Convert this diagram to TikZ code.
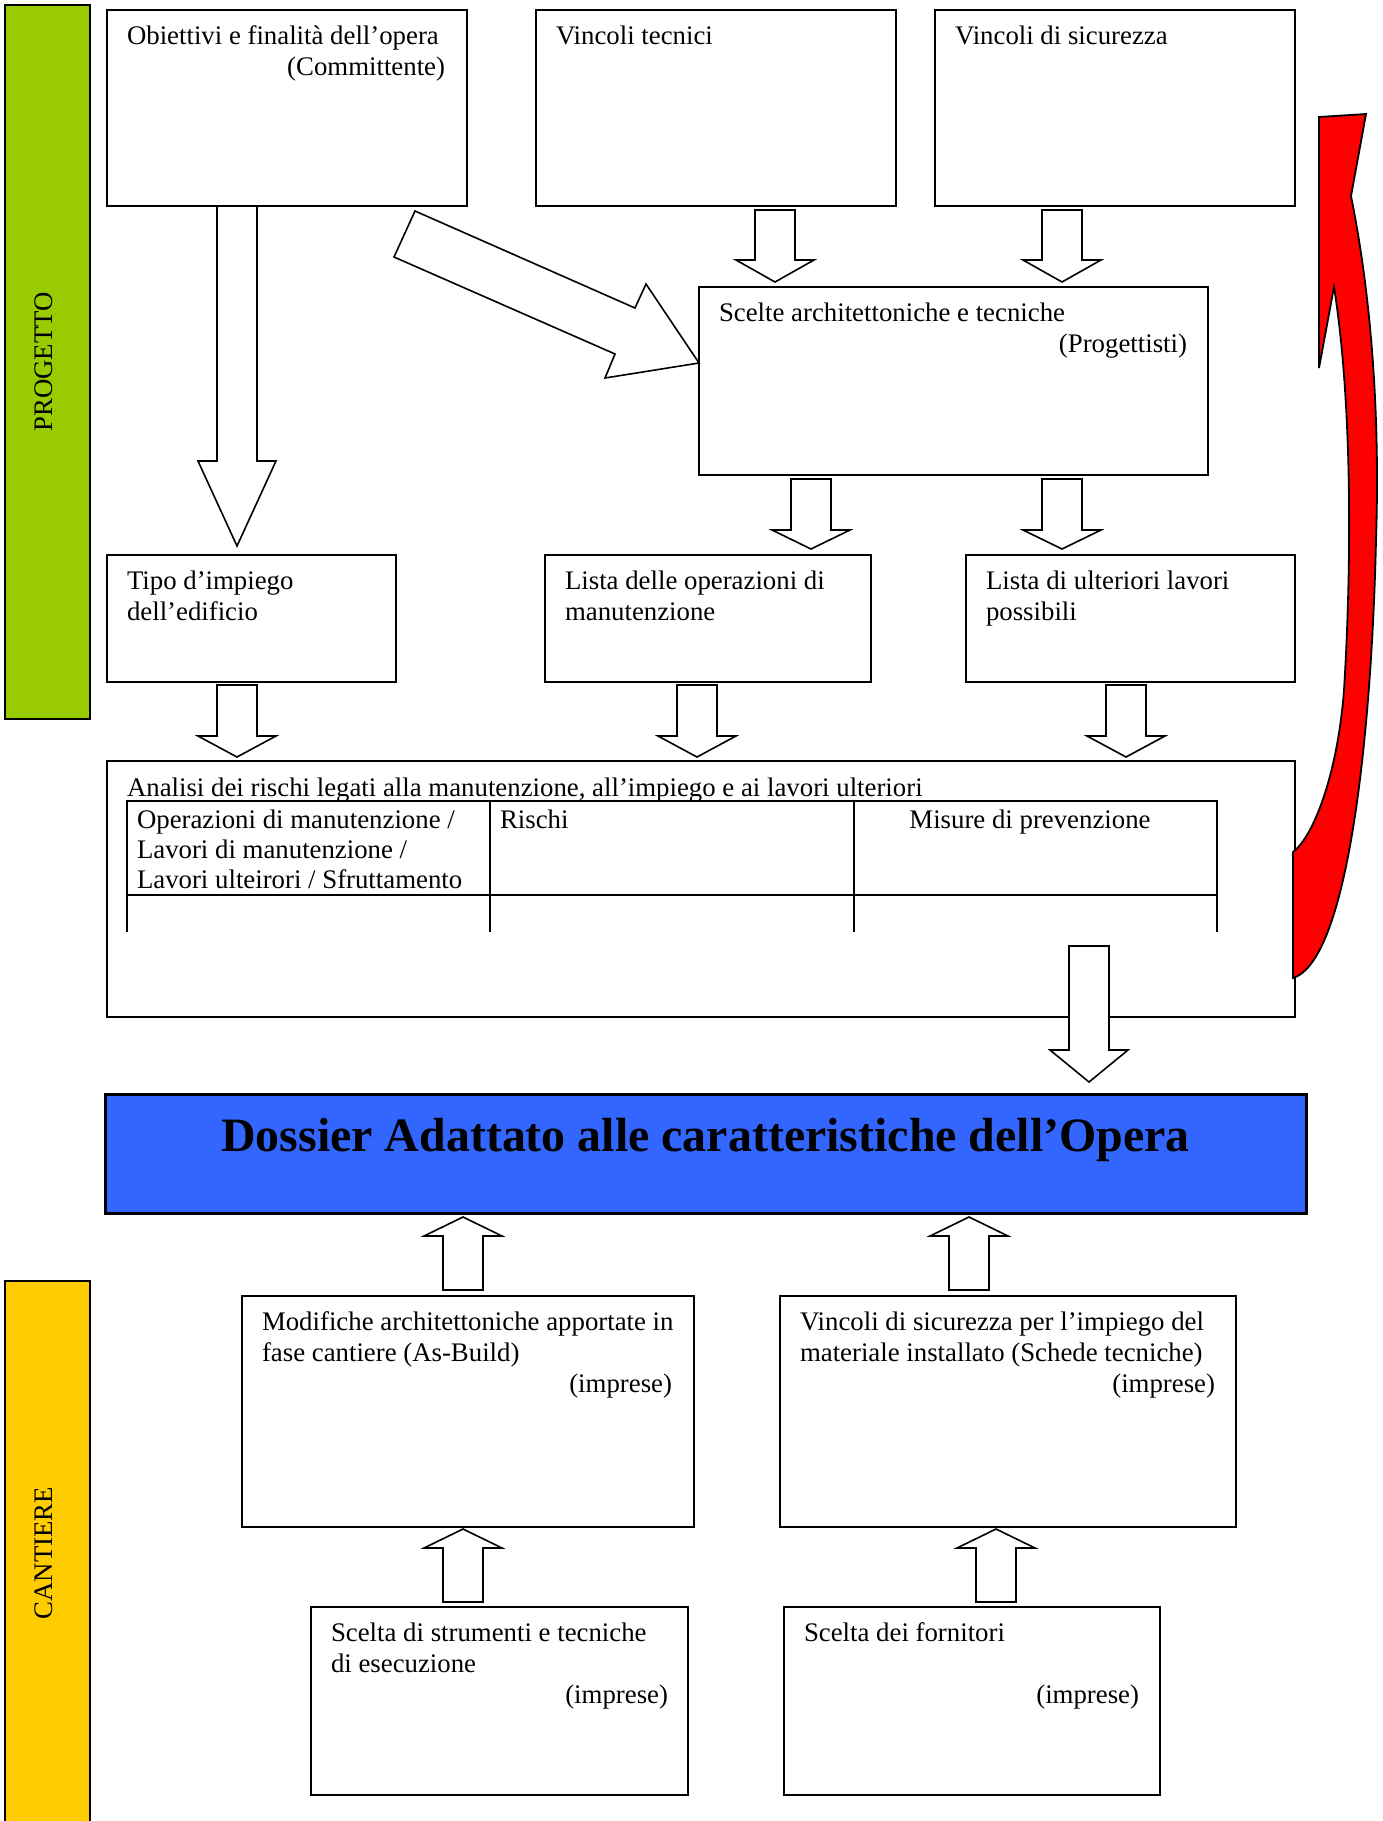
\documentclass[tikz,border=0pt]{standalone}
\usepackage{fontspec}
\setmainfont{Liberation Serif}
\definecolor{barGreen}{RGB}{153,204,0}
\definecolor{barYellow}{RGB}{255,204,0}
\definecolor{dossierBlue}{RGB}{51,102,255}
\definecolor{loopRed}{RGB}{255,0,0}
\newcommand\normaltext{\fontsize{26.8}{30.8}\selectfont}
\newcommand\titletext{\fontsize{47.9}{55}\selectfont\bfseries}
% left-aligned text line: name, box, baseline offset from box top, text
\newcommand\lline[4]{\node[txt, anchor=base west] (#1) at ([shift={(20,#3)}]#2.north west) {#4};}
% right-aligned text line: name, box, right inset, baseline offset, text
\newcommand\rline[5]{\node[txt, anchor=base east] (#1) at ([shift={(-#3,#4)}]#2.north east) {#5};}
% block arrow: centre x, tail y, head-base y, tip y
\newcommand\blockarrow[4]{%
  \draw[blk] (#1-20,#2) -- (#1-20,#3) -- (#1-39,#3) -- (#1,#4) -- (#1+39,#3)
    -- (#1+20,#3) -- (#1+20,#2) -- cycle;}
\begin{document}
\begin{tikzpicture}[x=1pt,y=-1pt,
  box/.style={draw=black, line width=1.6pt, rectangle, inner sep=0pt, outer sep=0pt, anchor=north west},
  txt/.style={inner sep=0pt, outer sep=0pt, font=\normaltext},
  blk/.style={draw=black, fill=white, line width=1.6pt, line join=miter},
  tbl/.style={draw=black, line width=1.6pt},
  loopback/.style={draw=black, fill=loopRed, line width=1.8pt, line join=miter},
]
\useasboundingbox (0,0) rectangle (1383,1821);

% phase bars
\node[box, fill=barGreen, minimum width=85, minimum height=714] (prog) at (5,5) {};
\node[txt, rotate=90] (progtext) at (44,362) {PROGETTO};
\node[box, fill=barYellow, minimum width=85, minimum height=560] (cant) at (5,1281) {};
\node[txt, rotate=90] (canttext) at (44,1553) {CANTIERE};

% design phase boxes
\node[box, minimum width=360, minimum height=196] (obj) at (107,10) {};
\node[box, minimum width=360, minimum height=196] (tec) at (536,10) {};
\node[box, minimum width=360, minimum height=196] (sic) at (935,10) {};
\node[box, minimum width=509, minimum height=188] (sce) at (699,287) {};
\node[box, minimum width=289, minimum height=127] (tipo) at (107,555) {};
\node[box, minimum width=326, minimum height=127] (man) at (545,555) {};
\node[box, minimum width=329, minimum height=127] (ult) at (966,555) {};
\node[box, minimum width=1188, minimum height=256] (ana) at (107,761) {};

\lline{objA}{obj}{34}{Obiettivi e finalità dell'opera}
\rline{objB}{obj}{22}{65}{(Committente)}
\lline{tecA}{tec}{34}{Vincoli tecnici}
\lline{sicA}{sic}{34}{Vincoli di sicurezza}
\lline{sceA}{sce}{34}{Scelte architettoniche e tecniche}
\rline{sceB}{sce}{21}{65}{(Progettisti)}
\lline{tipoA}{tipo}{34}{Tipo d'impiego}
\lline{tipoB}{tipo}{65}{dell'edificio}
\lline{manA}{man}{34}{Lista delle operazioni di}
\lline{manB}{man}{65}{manutenzione}
\lline{ultA}{ult}{34}{Lista di ulteriori lavori}
\lline{ultB}{ult}{65}{possibili}
\lline{anaA}{ana}{35}{Analisi dei rischi legati alla manutenzione, all'impiego e ai lavori ulteriori}

% risk table
\draw[tbl] (127,932) -- (127,801) -- (1217,801) -- (1217,932);
\draw[tbl] (127,895) -- (1217,895);
\draw[tbl] (490,801) -- (490,932);
\draw[tbl] (854,801) -- (854,932);
\node[txt, anchor=base west] (colopsA) at (137,828) {Operazioni di manutenzione /};
\node[txt, anchor=base west] (colopsB) at (137,858) {Lavori di manutenzione /};
\node[txt, anchor=base west] (colopsC) at (137,888) {Lavori ulteirori / Sfruttamento};
\node[txt, anchor=base west] (colrisk) at (500,828) {Rischi};
\node[txt, anchor=base] (colmis) at (1030,828) {Misure di prevenzione};

% dossier
\node[box, fill=dossierBlue, line width=3pt, minimum width=1201, minimum height=119] (dos) at (105,1094) {};
\node[inner sep=0pt, font=\titletext, anchor=base] (dostext) at (705.5,1151)
  {Dossier Adattato alle caratteristiche dell'Opera};

% construction phase boxes
\node[box, minimum width=452, minimum height=231] (mod) at (242,1296) {};
\node[box, minimum width=456, minimum height=231] (vsi) at (780,1296) {};
\node[box, minimum width=377, minimum height=188] (str) at (311,1607) {};
\node[box, minimum width=376, minimum height=188] (for) at (784,1607) {};

\lline{modA}{mod}{34}{Modifiche architettoniche apportate in}
\lline{modB}{mod}{65}{fase cantiere (As-Build)}
\rline{modC}{mod}{22}{96}{(imprese)}
\lline{vsiA}{vsi}{34}{Vincoli di sicurezza per l'impiego del}
\lline{vsiB}{vsi}{65}{materiale installato (Schede tecniche)}
\rline{vsiC}{vsi}{21}{96}{(imprese)}
\lline{strA}{str}{34}{Scelta di strumenti e tecniche}
\lline{strB}{str}{65}{di esecuzione}
\rline{strC}{str}{20}{96}{(imprese)}
\lline{forA}{for}{34}{Scelta dei fornitori}
\rline{forC}{for}{21}{96}{(imprese)}

% block arrows
\blockarrow{237}{206}{461}{546}
\blockarrow{775}{210}{260}{282}
\blockarrow{1062}{210}{260}{282}
\blockarrow{811}{479}{530}{549}
\blockarrow{1062}{479}{530}{549}
\blockarrow{237}{685}{736}{757}
\blockarrow{697}{685}{736}{757}
\blockarrow{1126}{685}{736}{757}
\blockarrow{1089}{946}{1050}{1082}
\blockarrow{463}{1290}{1236}{1217}
\blockarrow{969}{1290}{1236}{1217}
\blockarrow{463}{1602}{1548}{1529}
\blockarrow{996}{1602}{1548}{1529}

% slanted arrow from the client's goals to the design choices
\draw[blk] (415,211) -- (635,308) -- (646,284) -- (699,363) -- (605,378) -- (615,354)
  -- (394,257) -- cycle;

% curved feedback arrow
\draw[loopback] (1293,978) -- (1293,852)
  .. controls (1315,835) and (1338,770) .. (1344,690)
  .. controls (1352,560) and (1352,400) .. (1334,287)
  -- (1319,368) -- (1319,117) -- (1366,114) -- (1351,196)
  .. controls (1372,300) and (1380,420) .. (1376,540)
  .. controls (1372,720) and (1350,960) .. (1293,978) -- cycle;
\end{tikzpicture}
\end{document}
